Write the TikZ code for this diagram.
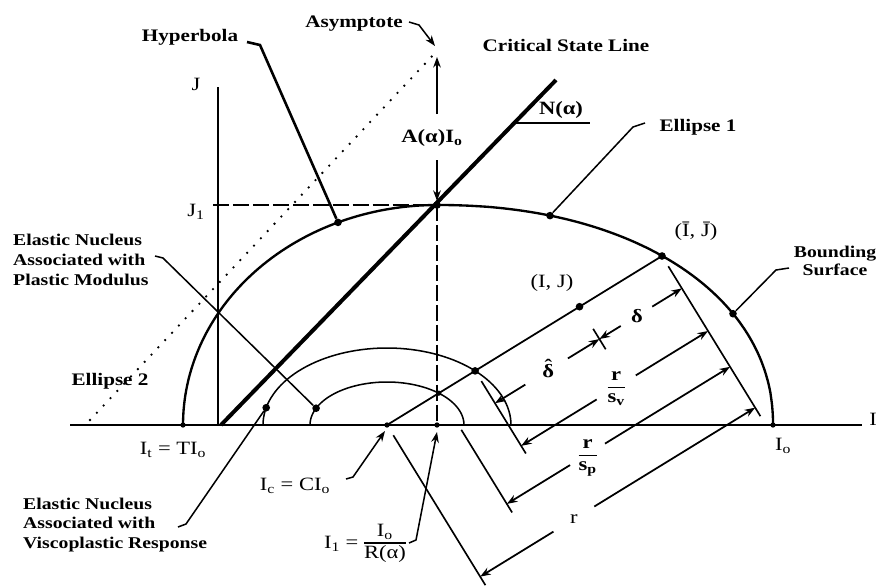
\documentclass[tikz,border=0pt]{standalone}
\usepackage{fontspec}
\setmainfont[FakeStretch=1.2]{Liberation Serif}
\usetikzlibrary{arrows.meta,calc}
\setlength{\arrayrulewidth}{0.9pt}
\newcommand{\myfrac}[2]{\begin{tabular}{@{}c@{}}#1\\\hline #2\end{tabular}}
\newcommand{\hatdelta}{\ooalign{δ\cr\hidewidth\raisebox{0.22em}{ˆ}\hidewidth\cr}}
\begin{document}
\begin{tikzpicture}[x=0.852pt,y=-0.852pt,
  axisline/.style={line width=1.6pt},
  boundline/.style={line width=2pt},
  cslline/.style={line width=3.4pt},
  leadline/.style={line width=1.3pt},
  heavylead/.style={line width=2.2pt},
  dimline/.style={line width=1.5pt},
  extline/.style={line width=1.4pt},
  nucline/.style={line width=1.3pt},
  tipped/.style={-{Stealth[length=9pt,width=6.5pt]}},
  ptdot/.style={circle,fill,inner sep=0pt,minimum size=4.5pt},
  bigdot/.style={circle,fill,inner sep=0pt,minimum size=6.5pt},
  boldlab/.style={font={\fontsize{15}{17}\selectfont\bfseries},inner sep=0pt},
  nuclab/.style={font={\fontsize{14}{17}\selectfont\bfseries},inner sep=0pt,align=left},
  mathlab/.style={font={\fontsize{16}{18}\selectfont},inner sep=0pt},
  mathbold/.style={font={\fontsize{16}{18}\selectfont\bfseries},inner sep=0pt},
  dashln/.style={line width=1.1pt,dash pattern=on 14pt off 3pt},
  dotln/.style={line width=2.2pt,line cap=round,dash pattern=on 0pt off 8.5pt}]

\useasboundingbox (0,0) rectangle (881,587);

% ---- key points
\coordinate (O) at (218,425);
\coordinate (Jtop) at (218,87);
\coordinate (Ileft) at (70,425);
\coordinate (Iright) at (862,425);
\coordinate (It) at (183,425);
\coordinate (Ic) at (387,425);
\coordinate (I1) at (437,425);
\coordinate (I0) at (773,425);
\coordinate (apex) at (437,205);
\coordinate (J1) at (213,205);
\coordinate (cslA) at (221,425);
\coordinate (cslB) at (556,80);
\coordinate (asymA) at (90,420);
\coordinate (asymB) at (436,52);
\coordinate (Ibar) at (662,256);

% ---- axes
\draw[axisline] (Ileft) -- (Iright);
\draw[axisline] (Jtop) -- (O);
\node[mathlab] (Ilab) at (873,419) {I};
\node[mathlab] (Jlab) at (196,84) {J};

% ---- dashed reference lines
\draw[dashln] (J1) -- (apex);
\draw[dashln] (apex) -- (I1);
\node[mathlab] (J1lab) at (196,212) {J\textsubscript{1}};

% ---- asymptote (dotted)
\draw[dotln] (asymA) -- (asymB);

% ---- critical state line
\draw[cslline] (cslA) -- (cslB);
\coordinate (cslN) at (515,123);
\coordinate (nUnder) at (590,123);
\draw[leadline] (cslN) -- (nUnder);
\node[mathbold] (Nlab) at (561,110) {N(α)};

% ---- bounding surface (ellipse 1 + hyperbola/ellipse 2)
\draw[boundline] (I0) -- plot[domain=0.3:89.7,samples=90]
   ({437+336*pow(cos(\x),0.943)},{425-220*pow(sin(\x),0.943)}) -- (apex)
   -- plot[domain=90:180,samples=70] ({437+254*cos(\x)},{425-220*sin(\x)});

% ---- elastic nuclei
\draw[nucline] plot[domain=0:180,samples=70] ({387+124*cos(\x)},{425-77*sin(\x)});
\draw[nucline] plot[domain=0:180,samples=70] ({387+77*cos(\x)},{425-43*sin(\x)});

% ---- radial line
\draw[dimline] (Ic) -- (Ibar);

% ---- dots
\node[ptdot] (pIt) at (It) {};
\node[ptdot] (pIc) at (Ic) {};
\node[ptdot] (pI1) at (I1) {};
\node[ptdot] (pI0) at (I0) {};
\node[bigdot] (pApex) at (apex) {};
\node[bigdot] (pIbar) at (Ibar) {};
\node[bigdot] (pHyp) at (338,222.4) {};
\node[bigdot] (pEll) at (550,215.6) {};
\node[bigdot] (pBnd) at (733,313.7) {};
\node[bigdot] (pVis) at (266.2,407.7) {};
\node[bigdot] (pPla) at (316.1,408.2) {};

% ---- top labels and leaders
\node[boldlab] (hyplab) at (190,37) {Hyperbola};
\coordinate (hypH) at (247,42);
\coordinate (hypB) at (260,45);
\draw[heavylead] (hypH) -- (hypB) -- (pHyp);

\node[boldlab] (asylab) at (354,24) {Asymptote};
\coordinate (asyH) at (409,22);
\coordinate (asyB) at (419,25);
\coordinate (asyT) at (435,46);
\draw[leadline,tipped] (asyH) -- (asyB) -- (asyT);

\node[boldlab] (csllab) at (566,45) {Critical State Line};

\node[mathbold] (Alab) at (432,138) {A(α)I\textsubscript{o}};
\coordinate (Aup0) at (437,114);
\coordinate (Aup1) at (437,57);
\coordinate (Adn0) at (437,160);
\draw[leadline,tipped] (Aup0) -- (Aup1);
\draw[leadline,tipped] (Adn0) -- (pApex.north);

\node[boldlab] (e1lab) at (698,127) {Ellipse 1};
\coordinate (e1H) at (645,123);
\coordinate (e1B) at (633,127);
\draw[leadline] (e1H) -- (e1B) -- (pEll);

\node[boldlab] (e2lab) at (110,381) {Ellipse 2};

\node[font={\fontsize{14}{16}\selectfont\bfseries},inner sep=0pt,align=center] (bndlab) at (835,261) {Bounding\\Surface};
\coordinate (bndH) at (789,268);
\coordinate (bndB) at (776,270);
\draw[leadline] (bndH) -- (bndB) -- (pBnd);

\node[mathlab] (IbarLab) at (696,231) {(\={I}, \={J})};
\node[mathlab] (IJlab) at (552,283) {(I, J)};

% ---- nucleus labels
\node[nuclab,anchor=west] (plalab) at (13,260) {Elastic Nucleus\\Associated with\\Plastic Modulus};
\coordinate (plaH) at (155,256);
\coordinate (plaB) at (163,258);
\draw[leadline] (plaH) -- (plaB) -- (pPla);

\node[nuclab,anchor=west] (vislab) at (23,525) {Elastic Nucleus\\Associated with\\Viscoplastic Response};
\coordinate (visH) at (178,527);
\coordinate (visB) at (186,524);
\draw[leadline] (visH) -- (visB) -- (pVis);

% ---- axis labels
\node[mathlab] (Itlab) at (173,450) {I\textsubscript{t} = TI\textsubscript{o}};
\node[mathlab] (I0lab) at (783,446) {I\textsubscript{o}};
\node[mathlab] (Iclab) at (295,486) {I\textsubscript{c} = CI\textsubscript{o}};
\coordinate (icH) at (346,479);
\coordinate (icB) at (353,477);
\coordinate (icT) at (385,431);
\draw[leadline,tipped] (icH) -- (icB) -- (icT);

\node[mathlab] (I1lab) at (365,543) {I\textsubscript{1} = \myfrac{I\textsubscript{o}}{R(α)}};
\coordinate (i1H) at (409,543);
\coordinate (i1B) at (416,540);
\coordinate (i1T) at (437,432);
\draw[leadline,tipped] (i1H) -- (i1B) -- (i1T);

% ---- dimensions (local frame along the radial line)
\begin{scope}[shift={(Ic)},rotate=31.57]
  \coordinate (u1) at (60.8,0);
  \coordinate (u2) at (103.4,0);
  \coordinate (u3) at (226,0);
  \node[ptdot] (pU1) at (u1) {};
  \node[bigdot] (pU2) at (u2) {};
  \node[bigdot] (pU3) at (u3) {};
  % extension lines
  \coordinate (e0a) at (0,12);      \coordinate (e0b) at (0,188);
  \coordinate (e1a) at (60.8,43);   \coordinate (e1b) at (60.8,140);
  \coordinate (e2a) at (103.4,12);  \coordinate (e2b) at (103.4,97);
  \coordinate (e3a) at (226,26);    \coordinate (e3b) at (226,50);
  \coordinate (e4a) at (322.8,12);  \coordinate (e4b) at (322.8,188);
  \draw[extline] (e0a) -- (e0b);
  \draw[extline] (e1a) -- (e1b);
  \draw[extline] (e2a) -- (e2b);
  \draw[extline] (e3a) -- (e3b);
  \draw[extline] (e4a) -- (e4b);
  % r
  \coordinate (ra) at (0,178);     \coordinate (rg1) at (86,178);
  \coordinate (rg2) at (134,178);  \coordinate (rb) at (322.8,178);
  \node[mathlab] (rlab) at (110,178) {r};
  \draw[dimline,tipped] (rg1) -- (ra);
  \draw[dimline,tipped] (rg2) -- (rb);
  % r/s_p
  \coordinate (pa) at (60.8,130);  \coordinate (pg1) at (135,130);
  \coordinate (pg2) at (176,130);  \coordinate (pb) at (322.8,130);
  \node[mathbold] (splab) at (155,131) {\myfrac{r}{s\textsubscript{p}}};
  \draw[dimline,tipped] (pg1) -- (pa);
  \draw[dimline,tipped] (pg2) -- (pb);
  % r/s_v
  \coordinate (va) at (103.4,88);  \coordinate (vg1) at (192,88);
  \coordinate (vg2) at (238,88);   \coordinate (vb) at (322.8,88);
  \node[mathbold] (svlab) at (215,88) {\myfrac{r}{s\textsubscript{v}}};
  \draw[dimline,tipped] (vg1) -- (va);
  \draw[dimline,tipped] (vg2) -- (vb);
  % delta hat
  \coordinate (ha) at (103.4,38);  \coordinate (hg1) at (139,38);
  \coordinate (hg2) at (189,38);   \coordinate (hb) at (226,38);
  \node[mathbold] (dhlab) at (166,38) {\hatdelta};
  \draw[dimline,tipped] (hg1) -- (ha);
  \draw[dimline,tipped] (hg2) -- (hb);
  % delta
  \coordinate (da) at (226,38);    \coordinate (dg1) at (251,38);
  \coordinate (dg2) at (288,38);   \coordinate (db) at (322.8,38);
  \node[mathbold] (dlab) at (270,38) {δ};
  \draw[dimline,tipped] (dg1) -- (da);
  \draw[dimline,tipped] (dg2) -- (db);
\end{scope}
\end{tikzpicture}
\end{document}
